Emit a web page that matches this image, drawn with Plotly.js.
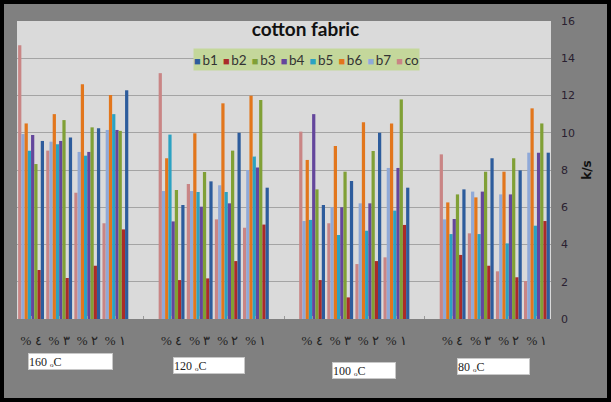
<!DOCTYPE html>
<html>
<head>
<meta charset="utf-8">
<script src="https://cdn.plot.ly/plotly-3.0.1.min.js"></script>
<style>
  html, body { margin: 0; padding: 0; background: #808080; }
  #chart { width: 611px; height: 402px; }
</style>
</head>
<body>
<div id="chart"></div>
<script>
(() => {
  "use strict";

  // temperature groups, left to right
  const groups = ["160 ₒC", "120 ₒC", "100 ₒC", "80 ₒC"];
  // concentration labels inside each group, left to right
  const subLabels = ["% ٤", "% ٣", "% ٢", "% ١"];

  // k/s values, 16 per series: 160 (%4,%3,%2,%1), 120 (...), 100 (...), 80 (...)
  const co = [14.7, 9.04, 6.78, 5.14, 13.2, 7.25, 5.35, 4.9, 10.06, 5.14, 2.95, 3.31, 8.84, 4.6, 2.56, 2.04];
  const b7 = [9.93, 9.52, 8.97, 10.15, 6.87, 6.87, 7.18, 8.0, 5.26, 6.0, 6.21, 8.11, 5.35, 6.84, 6.69, 8.93];
  const b6 = [10.5, 11.0, 12.6, 12.03, 8.63, 9.97, 11.58, 11.99, 8.54, 9.29, 10.56, 10.5, 6.26, 6.53, 7.91, 11.31];
  const b5 = [9.04, 9.38, 8.77, 11.0, 9.9, 6.82, 6.82, 8.72, 5.32, 4.51, 4.74, 5.82, 4.56, 4.56, 4.06, 5.01];
  const b4 = [9.88, 9.56, 8.97, 10.15, 5.24, 6.03, 6.21, 8.13, 11.0, 6.0, 6.21, 8.11, 5.37, 6.84, 6.69, 8.93];
  const b3 = [8.32, 10.68, 10.29, 10.1, 6.93, 7.89, 9.04, 11.76, 6.96, 7.91, 9.02, 11.79, 6.69, 7.91, 8.63, 10.5];
  const b2 = [2.63, 2.2, 2.86, 4.81, 2.09, 2.18, 3.11, 5.07, 2.09, 1.16, 3.11, 5.05, 3.44, 2.86, 2.24, 5.26];
  const b1 = [9.56, 9.75, 10.24, 12.28, 6.12, 7.39, 10.0, 7.05, 6.12, 7.41, 10.0, 7.05, 6.96, 8.63, 7.98, 8.93];

  // drawn left to right inside each category (chart is right-to-left)
  const series = [
    { name: "co", y: co, color: "#c98585" },
    { name: "b7", y: b7, color: "#8fa9d8" },
    { name: "b6", y: b6, color: "#e2761c" },
    { name: "b5", y: b5, color: "#2ba2c2" },
    { name: "b4", y: b4, color: "#64469c" },
    { name: "b3", y: b3, color: "#80a036" },
    { name: "b2", y: b2, color: "#aa2b29" },
    { name: "b1", y: b1, color: "#2d5c9c" }
  ];

  // one empty slot between groups
  const SLOT = subLabels.length + 1;
  const xpos = [];
  const tickvals = [];
  const ticktext = [];
  groups.forEach((g, gi) => {
    subLabels.forEach((s, si) => {
      xpos.push(gi * SLOT + si);
      tickvals.push(gi * SLOT + si);
      ticktext.push(s);
    });
    if (gi < groups.length - 1) {
      tickvals.push(gi * SLOT + subLabels.length);
      ticktext.push("");
    }
  });

  const traces = series.map(s => ({
    type: "bar",
    name: s.name,
    x: xpos,
    y: s.y,
    marker: { color: s.color, line: { width: 0 } },
    hoverinfo: "name+y"
  }));

  // plot area in pixels
  const L = 17, R = 60, T = 21, B = 83, W = 611, H = 402;
  const pw = W - L - R, ph = H - T - B;
  const px = v => (v - L) / pw;
  const py = v => (H - B - v) / ph;

  // white label boxes under each group: left, top, width
  const boxes = [[28, 353, 85], [173, 357, 72], [332, 362, 64], [457, 358, 73]];
  const annotations = groups.map((g, i) => ({
    xref: "paper", yref: "paper",
    x: px(boxes[i][0]), y: py(boxes[i][1]),
    xanchor: "left", yanchor: "top",
    text: g,
    showarrow: false,
    align: "left",
    width: boxes[i][2] - 2, height: 15,
    bgcolor: "#ffffff",
    bordercolor: "#c8c8c8", borderwidth: 1, borderpad: 0,
    font: { family: "Liberation Serif, serif", size: 12, color: "#222" }
  }));

  // compact legend, b1 first
  const legendText = series.slice().reverse()
    .map(s => `<span style="color:${s.color};font-size:11px">■</span>\u2009${s.name}`)
    .join(" \u2009");
  annotations.push({
    xref: "paper", yref: "paper",
    x: px(306.5), y: py(60),
    xanchor: "center", yanchor: "middle",
    text: legendText,
    showarrow: false,
    width: 225, height: 21,
    bgcolor: "#c4d79b", borderpad: 0,
    font: { family: "Lato, sans-serif", size: 13.5, color: "#333" }
  });

  const layout = {
    width: W, height: H,
    margin: { l: L, r: R, t: T, b: B },
    paper_bgcolor: "#808080",
    plot_bgcolor: "#dadada",
    showlegend: false,
    barmode: "group",
    bargap: 0.08,
    bargroupgap: 0,
    title: {
      text: "<b>cotton fabric</b>",
      x: px(305.5), xref: "paper", xanchor: "center",
      y: py(29), yref: "paper", yanchor: "middle",
      font: { family: "Lato, sans-serif", size: 19, color: "#111" }
    },
    xaxis: {
      type: "linear",
      range: [-0.5, groups.length * SLOT - 1.5],
      tickvals: tickvals,
      ticktext: ticktext,
      showgrid: false,
      zeroline: false,
      showline: false,
      ticks: "inside", ticklen: 3, tickcolor: "#999",
      ticklabelstandoff: 12,
      tickfont: { family: "Liberation Serif, serif", size: 13, color: "#222" }
    },
    yaxis: {
      side: "right",
      range: [0, 16],
      dtick: 2,
      gridcolor: "#a4a4a4",
      gridwidth: 1,
      zeroline: false,
      showline: false,
      ticks: "",
      ticklabelstandoff: 9,
      tickfont: { family: "DejaVu Sans, sans-serif", size: 11, color: "#2a2030" },
      title: {
        text: "<b>k/s</b>",
        standoff: 8,
        font: { family: "DejaVu Sans, sans-serif", size: 12, color: "#111" }
      }
    },
    annotations: annotations,
    shapes: [{
      type: "rect", xref: "paper", yref: "paper",
      x0: px(0), x1: px(W), y0: py(H), y1: py(0),
      line: { color: "#000", width: 8 },
      fillcolor: "rgba(0,0,0,0)"
    }]
  };

  Plotly.newPlot("chart", traces, layout, { displayModeBar: false, staticPlot: true });
})();
</script>
</body>
</html>
